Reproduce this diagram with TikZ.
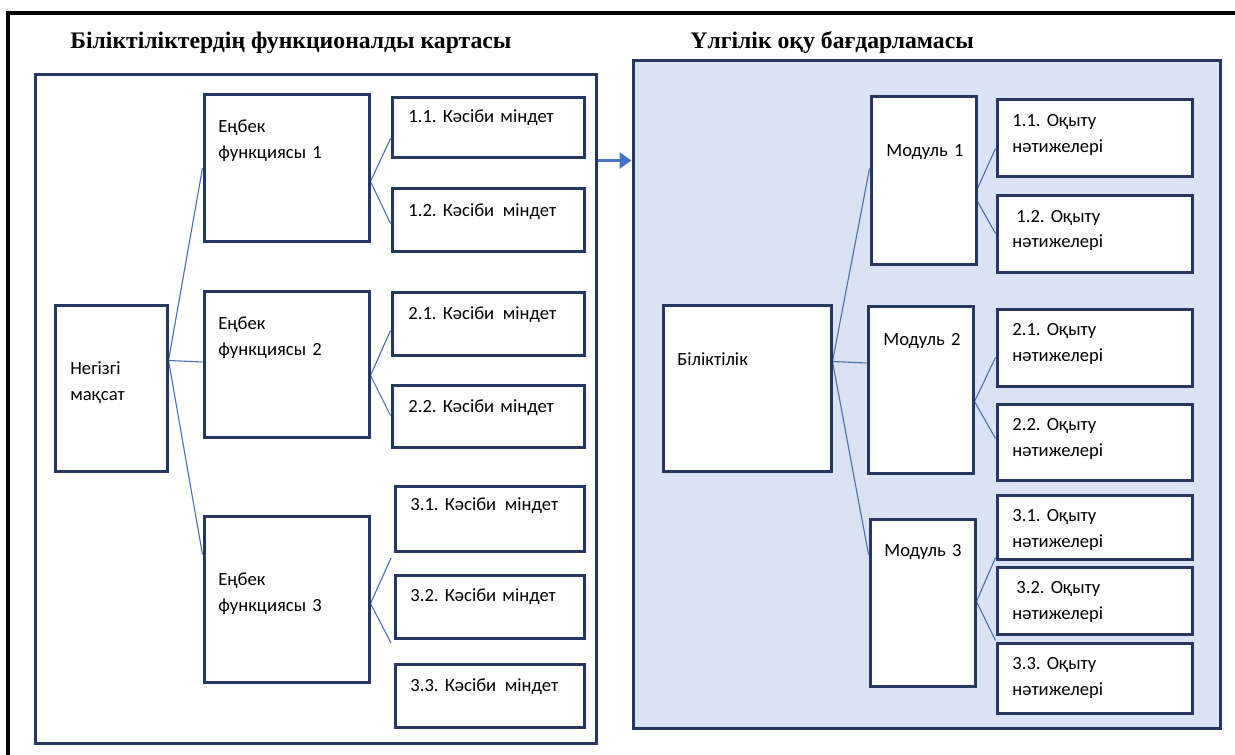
\documentclass[tikz,border=0pt]{standalone}
\usepackage{fontspec}
\setmainfont{Carlito}
\newfontfamily\titlefont{Liberation Serif}
\usetikzlibrary{fit,arrows.meta,calc}
\definecolor{navy}{RGB}{38,56,97}
\definecolor{connc}{RGB}{74,110,178}
\definecolor{panelfill}{RGB}{218,227,243}
\definecolor{arrowblue}{RGB}{68,114,196}
\pgfdeclarelayer{back}
\pgfdeclarelayer{mid}
\pgfsetlayers{back,mid,main}
\frenchspacing
\newcommand\bx[6][box]{\node[#1, fit={(#3,#4)(#5,#6)}] (#2) {};}
\newcommand\wsp{\ \hspace{1.2pt}}
\begin{document}
\begin{tikzpicture}[x=0.5pt,y=-0.5pt,
  box/.style={draw=navy, line width=1.5pt, fill=white, inner sep=0pt},
  panel/.style={draw=navy, line width=1.5pt, inner sep=0pt},
  bluepanel/.style={panel, fill=panelfill},
  connector/.style={draw=connc, line width=0.55pt},
  txt/.style={anchor=base west, inner sep=0pt, text width=100pt, align=left, font=\fontsize{9.3}{13}\selectfont},
  ttl/.style={anchor=base west, inner sep=0pt, font=\titlefont\bfseries\fontsize{11.85}{13}\selectfont},
  frameline/.style={draw=black, line width=2pt},
  bigarrow/.style={draw=arrowblue, line width=1.7pt, -{Triangle[length=6pt,width=8pt]}}]
\useasboundingbox (0,0) rectangle (1235,754);
\begin{scope}
\clip (0,0) rectangle (1235,754);
\draw[frameline] (8,800) -- (8,13) -- (1300,13);
\end{scope}
% panels
\begin{pgfonlayer}{back}
\bx[panel]{lp}{35}{75}{596}{743}
\bx[bluepanel]{rp}{633}{61}{1220}{728}
\end{pgfonlayer}
% left boxes
\bx{neg}{55}{305}{167}{471}
\bx{ef1}{204}{95}{369}{241}
\bx{ef2}{204}{291}{369}{437}
\bx{ef3}{204}{516}{369}{682}
\bx{k11}{392}{98}{584}{158}
\bx{k12}{392}{189}{584}{251}
\bx{k21}{392}{292}{584}{355}
\bx{k22}{392}{385}{584}{447}
\bx{k31}{395}{486}{584}{551}
\bx{k32}{395}{575}{584}{638}
\bx{k33}{395}{664}{584}{727}
% right boxes
\bx{bil}{663}{305}{831}{471}
\bx{m1}{871}{97}{976}{264}
\bx{m2}{868}{306}{973}{473}
\bx{m3}{870}{519}{975}{686}
\bx{o11}{997}{100}{1192}{177}
\bx{o12}{997}{196}{1192}{272}
\bx{o21}{997}{309}{1192}{386}
\bx{o22}{997}{404}{1192}{480}
\bx{o31}{997}{495}{1192}{559}
\bx{o32}{997}{567}{1192}{634}
\bx{o33}{997}{643}{1192}{713}
% free ends
\coordinate (e31) at (391,558);
\coordinate (e32) at (391,643);
% connectors
\begin{pgfonlayer}{mid}
\draw[connector] ($(neg.north east)+(0,57)$) -- (ef1.west);
\draw[connector] ($(neg.north east)+(0,57)$) -- (ef2.west |- 0,362);
\draw[connector] ($(neg.north east)+(0,57)$) -- ($(ef3.north west)+(0,40)$);
\draw[connector] ($(ef1.north east)+(0,88)$) -- ($(k11.north west)+(0,42)$);
\draw[connector] ($(ef1.north east)+(0,88)$) -- ($(k12.north west)+(0,36)$);
\draw[connector] ($(ef2.north east)+(0,86)$) -- ($(k21.north west)+(0,40)$);
\draw[connector] ($(ef2.north east)+(0,86)$) -- ($(k22.north west)+(0,32)$);
\draw[connector] ($(ef3.north east)+(0,89)$) -- (e31);
\draw[connector] ($(ef3.north east)+(0,89)$) -- (e32);
\draw[connector] ($(bil.north east)+(0,58)$) -- ($(m1.north west)+(0,73)$);
\draw[connector] ($(bil.north east)+(0,58)$) -- (m2.west |- 0,363);
\draw[connector] ($(bil.north east)+(0,58)$) -- ($(m3.north west)+(0,37)$);
\draw[connector] ($(m1.north east)+(0,93)$) -- ($(o11.north west)+(0,50)$);
\draw[connector] ($(m1.north east)+(0,106)$) -- ($(o12.north west)+(0,39)$);
\draw[connector] ($(m2.north east)+(0,97)$) -- ($(o21.north west)+(0,50)$);
\draw[connector] ($(m2.north east)+(0,97)$) -- ($(o22.north west)+(0,36)$);
\draw[connector] ($(m3.north east)+(0,84)$) -- ($(o31.north west)+(0,64)$);
\draw[connector] ($(m3.north east)+(0,84)$) -- ($(o32.north west)+(0,75)$);
\end{pgfonlayer}
\draw[bigarrow] ($(lp.north east)+(0,87)$) -- ($(rp.north west)+(0,101)$);
% titles
\node[ttl] (t1) at (70,49) {Біліктіліктердің функционалды картасы};
\node[ttl] (t2) at (690,49) {Үлгілік оқу бағдарламасы};
% texts
\node[txt] (neg-t) at (70,374) {Негізгі\\мақсат};
\node[txt] (ef1-t) at (218,133) {Еңбек\\функциясы 1};
\node[txt] (ef2-t) at (218,329) {Еңбек\\функциясы 2};
\node[txt] (ef3-t) at (218,585) {Еңбек\\функциясы 3};
\node[txt] (k11-t) at (408,123) {1.1. Кәсіби міндет};
\node[txt] (k12-t) at (408,216) {1.2. Кәсіби\wsp міндет};
\node[txt] (k21-t) at (408,319) {2.1. Кәсіби\wsp міндет};
\node[txt] (k22-t) at (408,412) {2.2. Кәсіби міндет};
\node[txt] (k31-t) at (410,510) {3.1. Кәсіби\wsp міндет};
\node[txt] (k32-t) at (410,601) {3.2. Кәсіби міндет};
\node[txt] (k33-t) at (410,691) {3.3. Кәсіби\wsp міндет};
\node[txt] (bil-t) at (677,365) {Біліктілік};
\node[txt] (m1-t) at (886,157) {Модуль 1};
\node[txt] (m2-t) at (883,345) {Модуль 2};
\node[txt] (m3-t) at (884,556) {Модуль 3};
\node[txt] (o11-t) at (1012,127) {1.1. Оқыту\\нәтижелері};
\node[txt] (o12-t) at (1016,222) {1.2. Оқыту\\\hspace*{-2pt}нәтижелері};
\node[txt] (o21-t) at (1012,335) {2.1. Оқыту\\нәтижелері};
\node[txt] (o22-t) at (1012,430) {2.2. Оқыту\\нәтижелері};
\node[txt] (o31-t) at (1012,521) {3.1. Оқыту\\нәтижелері};
\node[txt] (o32-t) at (1016,593) {3.2. Оқыту\\\hspace*{-2pt}нәтижелері};
\node[txt] (o33-t) at (1012,669) {3.3. Оқыту\\нәтижелері};
\end{tikzpicture}
\end{document}
